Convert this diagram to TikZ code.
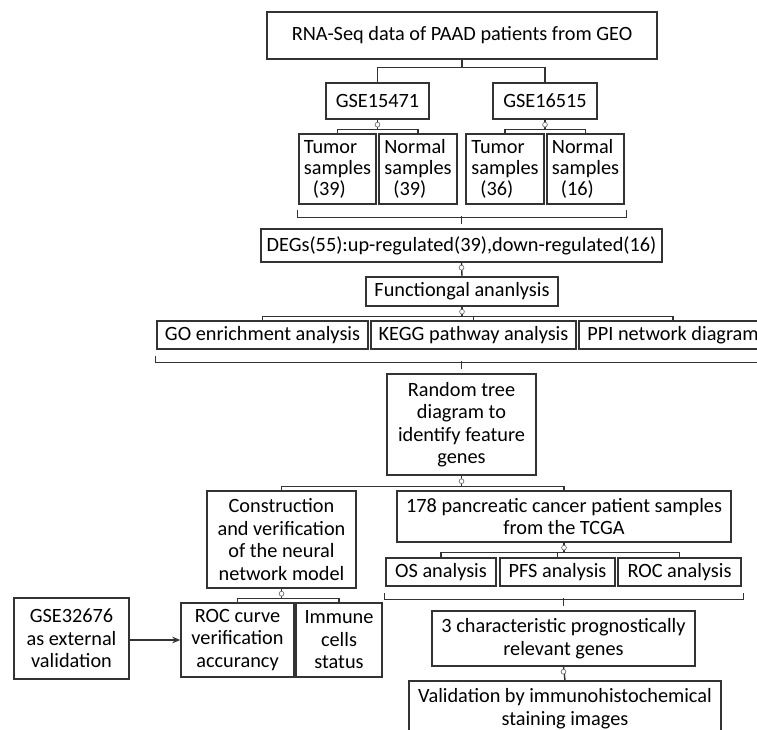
\documentclass[tikz,border=0pt]{standalone}
\usepackage{fontspec}
\setmainfont{Carlito}
\usetikzlibrary{arrows.meta,calc}
\begin{document}
\begin{tikzpicture}[x=1pt,y=-1pt,
  bx/.style={draw=black!80, line width=1.4pt, fill=white, inner sep=0pt, align=center, text=black, font=\fontsize{20.3}{22.5}\selectfont},
  smp/.style={bx, align=left, font=\fontsize{20.3}{21}\selectfont, minimum height=70pt},
  ln/.style={draw=black!80, line width=1.4pt},
  dotc/.style={circle, draw=black!55, fill=white, line width=0.7pt, minimum size=4.8pt, inner sep=0pt},
]
\fill[white] (0,0) rectangle (757,730);
\useasboundingbox (0,0) rectangle (757,730);
\clip (0,0) rectangle (757,730);

% boxes
\node[bx, minimum width=390pt, minimum height=47pt] (top) at (462,35.5) {RNA-Seq data of PAAD patients from GEO};
\node[bx, minimum width=103pt, minimum height=36pt] (g1) at (377.5,101) {GSE15471};
\node[bx, minimum width=104pt, minimum height=36pt] (g2) at (545,101) {GSE16515};
\node[smp, minimum width=77pt] (t1) at (337.5,169) {Tumor\\samples\\\hspace*{9pt}(39)};
\node[smp, minimum width=78pt] (n1) at (418,169) {Normal\\samples\\\hspace*{9pt}(39)};
\node[smp, minimum width=78pt] (t2) at (505,169) {Tumor\\samples\\\hspace*{9pt}(36)};
\node[smp, minimum width=77pt] (n2) at (585.5,169) {Normal\\samples\\\hspace*{9pt}(16)};
\node[bx, minimum width=401pt, minimum height=33pt] (degs) at (461.5,245.5) {DEGs(55):up-regulated(39),down-regulated(16)};
\node[bx, minimum width=192pt, minimum height=29pt] (func) at (462,291.5) {Functiongal ananlysis};
\node[bx, minimum width=211pt, minimum height=28pt] (go) at (262.5,335) {GO enrichment analysis};
\node[bx, minimum width=205pt, minimum height=28pt] (kegg) at (473.5,335) {KEGG pathway analysis};
\node[bx, minimum width=188pt, minimum height=28pt] (ppi) at (673,335) {PPI network diagram};
\node[bx, minimum width=149pt, minimum height=101pt] (rt) at (461.5,424.5) {Random tree\\diagram to\\identify feature\\genes};
\node[bx, minimum width=149pt, minimum height=97pt] (cons) at (281.5,539.5) {Construction\\and verification\\of the neural\\network model};
\node[bx, minimum width=334pt, minimum height=51pt] (tcga) at (564,516.5) {178 pancreatic cancer patient samples\\from the TCGA};
\node[bx, minimum width=113pt, minimum height=74pt] (roc) at (237.5,640) {ROC curve\\verification\\accurancy};
\node[bx, minimum width=86pt, minimum height=74pt] (imm) at (339,640) {Immune\\cells\\status};
\node[bx, minimum width=115pt, minimum height=81pt] (gse3) at (71.5,638.5) {GSE32676\\as external\\validation};
\node[bx, minimum width=110pt, minimum height=28pt] (os) at (441,572) {OS analysis};
\node[bx, minimum width=115pt, minimum height=28pt] (pfs) at (557.5,572) {PFS analysis};
\node[bx, minimum width=123pt, minimum height=28pt] (roca) at (679.5,572) {ROC analysis};
\node[bx, minimum width=263pt, minimum height=55pt] (char) at (563.5,638.5) {3 characteristic prognostically\\relevant genes};
\node[bx, minimum width=312pt, minimum height=55pt] (val) at (565,708.5) {Validation by immunohistochemical\\staining images};

% connectors
\draw[ln] (top.south) -- ++(0,8) -| (g1.north);
\draw[ln] (top.south) ++(0,8) -| (g2.north);
\draw[ln] (g1.south) -- ++(0,10) -| (t1.north);
\draw[ln] (g1.south) ++(0,10) -| (n1.north);
\draw[ln] (g2.south) -- ++(0,10) -| (t2.north);
\draw[ln] (g2.south) ++(0,10) -| (n2.north);
\draw[ln] ($(t1.south west)+(-1,5)$) -- ++(0,8) -| ($(n2.south east)+(2,5)$);
\draw[ln] (degs.north) ++(0,-12) -- ++(0,8);
\draw[ln] (degs.south) -- (func.north);
\draw[ln] (func.south) -- ++(0,10) -| (go.north);
\draw[ln] (func.south) ++(0,10) -| (kegg.north);
\draw[ln] (func.south) ++(0,10) -| (ppi.north);
\draw[ln] ($(go.south west)+(-1,6)$) -- ++(0,7) -| ($(ppi.south east)+(2,6)$);
\draw[ln] (rt.north) ++(0,-12) -- ++(0,8);
\draw[ln] (rt.south) -- ++(0,11) -| (cons.north);
\draw[ln] (rt.south) ++(0,11) -| (tcga.north);
\draw[ln] (cons.south) -- ++(0,10) -| (roc.north);
\draw[ln] (cons.south) ++(0,10) -| (imm.north);
\draw[ln, -{Stealth[length=8pt,width=6.5pt]}] (gse3.east |- roc.west) -- (roc.west);
\draw[ln] (tcga.south) -- ++(0,10) -| (os.north);
\draw[ln] (tcga.south) ++(0,10) -| (pfs.north);
\draw[ln] (tcga.south) ++(0,10) -| (roca.north);
\draw[ln] ($(os.south west)+(-1,6)$) -- ++(0,7) -| ($(roca.south east)+(2,6)$);
\draw[ln] (char.north) ++(0,-12) -- ++(0,8);
\draw[ln] (char.south) -- (val.north);

% small circles
\foreach \p in {g1,g2,degs,func,cons,tcga,char}
  \node[dotc] at ($(\p.south)+(0,5)$) {};
\node[dotc] at ($(rt.south)+(0,5.5)$) {};
\end{tikzpicture}
\end{document}
